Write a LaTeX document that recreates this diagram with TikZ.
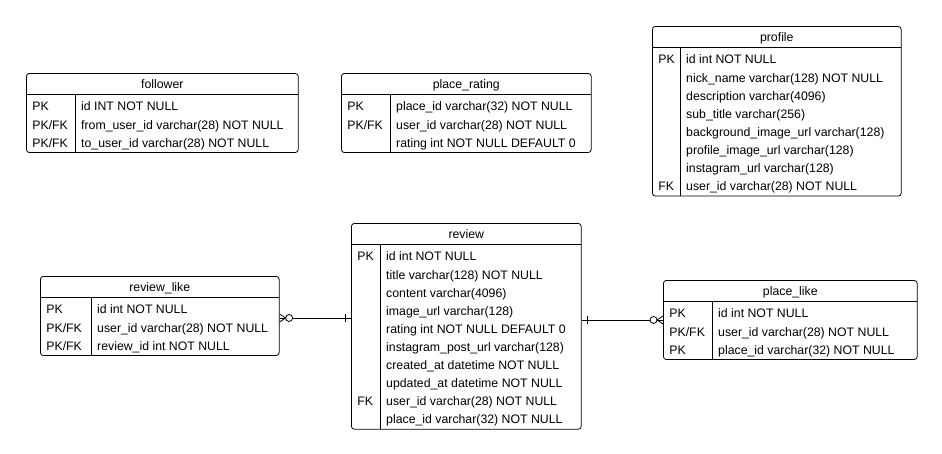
\documentclass[tikz,border=0pt]{standalone}
\usepackage{fontspec}
\setmainfont{Liberation Sans}
\usepackage{array}
\setlength{\arrayrulewidth}{0.8pt}

% one table: key column width, field column width, title, rows
\newcommand{\ertable}[4]{%
\begin{tabular}{@{\hspace{6pt}}p{#1}@{}|@{\hspace{5pt}}p{#2}@{}}
\multicolumn{2}{c}{\rule{0pt}{15pt}#3}\\ \hline
\rule{0pt}{16.3pt}#4
\end{tabular}}

\tikzstyle{entity} = [rectangle, rounded corners=3pt, draw=black, line width=0.8pt, inner sep=0pt, anchor=north west, font=\fontsize{12.3}{18.1}\selectfont]
\tikzstyle{rel} = [line width=0.8pt]

\begin{document}
\begin{tikzpicture}[x=1pt, y=-1pt]
\useasboundingbox (0,0) rectangle (942,453);

\node (follower) [entity] at (26,73) {\ertable{43pt}{217pt}{follower}{%
PK & id INT NOT NULL\\
PK/FK & from\_user\_id varchar(28) NOT NULL\\
PK/FK & to\_user\_id varchar(28) NOT NULL}};

\node (place_rating) [entity] at (341,73) {\ertable{43pt}{195pt}{place\_rating}{%
PK & place\_id varchar(32) NOT NULL\\
PK/FK & user\_id varchar(28) NOT NULL\\
 & rating int NOT NULL DEFAULT 0}};

\node (profile) [entity] at (652,26) {\ertable{22pt}{215pt}{profile}{%
PK & id int NOT NULL\\
 & nick\_name varchar(128) NOT NULL\\
 & description varchar(4096)\\
 & sub\_title varchar(256)\\
 & background\_image\_url varchar(128)\\
 & profile\_image\_url varchar(128)\\
 & instagram\_url varchar(128)\\
FK & user\_id varchar(28) NOT NULL}};

\node (review) [entity] at (351,223) {\ertable{23pt}{195pt}{review}{%
PK & id int NOT NULL\\
 & title varchar(128) NOT NULL\\
 & content varchar(4096)\\
 & image\_url varchar(128)\\
 & rating int NOT NULL DEFAULT 0\\
 & instagram\_post\_url varchar(128)\\
 & created\_at datetime NOT NULL\\
 & updated\_at datetime NOT NULL\\
FK & user\_id varchar(28) NOT NULL\\
 & place\_id varchar(32) NOT NULL}};

\node (review_like) [entity] at (40,276) {\ertable{45pt}{182pt}{review\_like}{%
PK & id int NOT NULL\\
PK/FK & user\_id varchar(28) NOT NULL\\
PK/FK & review\_id int NOT NULL}};

\node (place_like) [entity] at (663,280) {\ertable{43pt}{199pt}{place\_like}{%
PK & id int NOT NULL\\
PK/FK & user\_id varchar(28) NOT NULL\\
PK & place\_id varchar(32) NOT NULL}};

% review 1 -- 0..* review_like
\coordinate (rl) at ([yshift=-2pt]review_like.east);
\coordinate (rvl) at (review.west |- rl);
\draw [rel] (rl) ++(0,-4) -- ++(6,4) -- ++(-6,4);
\draw [rel] (rl) -- ++(6,0);
\draw [rel] (rl) ++(13,0) arc (0:360:3.5);
\draw [rel] (rl) ++(13,0) -- (rvl);
\draw [rel] (rvl) ++(-6,-4) -- ++(0,8);

% review 1 -- 0..* place_like
\coordinate (pl) at (place_like.west);
\coordinate (rvr) at (review.east |- pl);
\draw [rel] (pl) ++(0,-4) -- ++(-6,4) -- ++(6,4);
\draw [rel] (pl) -- ++(-6,0);
\draw [rel] (pl) ++(-13,0) arc (180:-180:3.5);
\draw [rel] (pl) ++(-13,0) -- (rvr);
\draw [rel] (rvr) ++(6,-4) -- ++(0,8);

\end{tikzpicture}
\end{document}
